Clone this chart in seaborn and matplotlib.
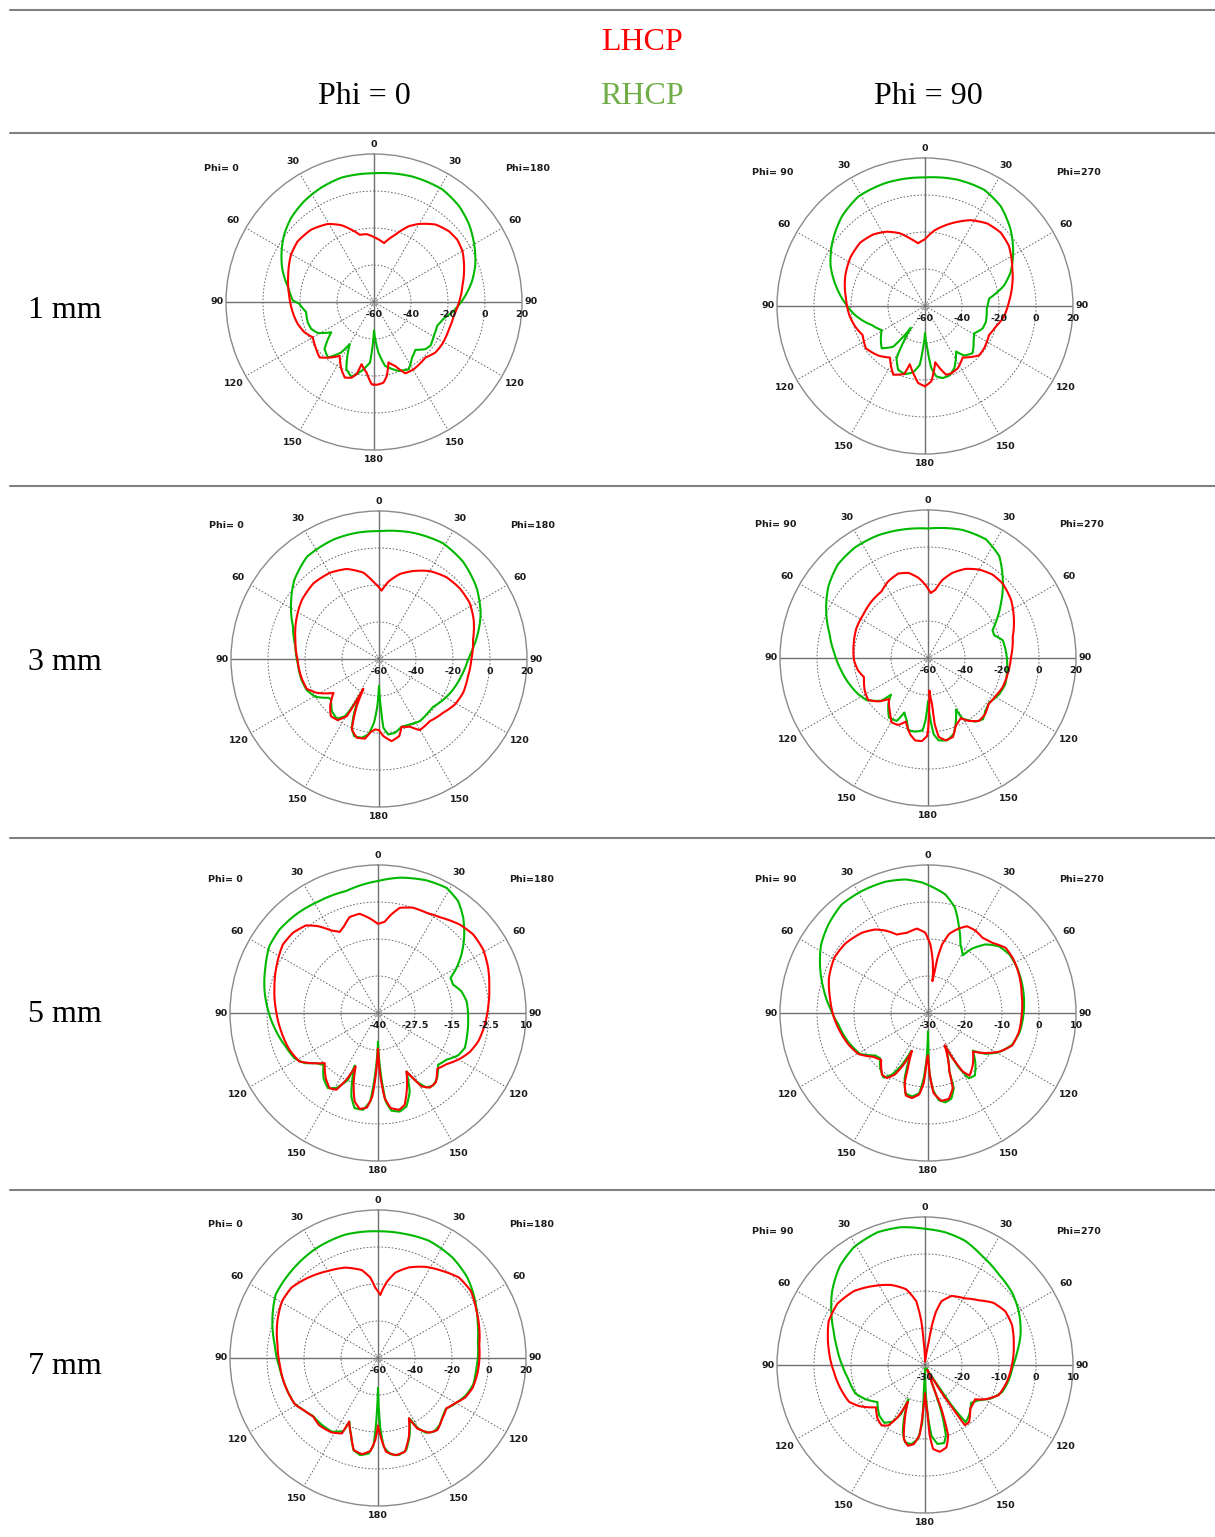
import numpy as np
import pandas as pd
import matplotlib
matplotlib.use("Agg")
import matplotlib.pyplot as plt
from matplotlib.lines import Line2D
import seaborn as sns

# Circularly polarised gain (dB) versus elevation theta (deg).
# Negative theta = first phi cut (left half), positive theta = opposite cut (right half).

# ---- 1 mm, phi = 0 / 180 ----
t1_rhcp = [-180, -176.2, -169.8, -163.2, -157.7, -150, -147, -140.3, -133.6, -125.3, -118.9, -113.2, -107, -98.4, -91.3,
           -88.8, -81, -70.2, -61.4, -53.2, -44.7, -34.6, -24.8, -14.7, 0, 16.9, 31.2, 41.6, 50.9, 60.3,
           69.9, 78.3, 84.8, 88.9, 97.3, 103, 110.4, 119.3, 127.7, 132.5, 139.1, 145.6, 152.7, 160.4, 170.1, 175, 180]
g1_rhcp = [-44.5, -27.2, -22.2, -17.8, -20.7, -33.8, -27.5, -21, -23.1, -31.7, -25.3, -23.1, -22.5, -22.9, -19.6,
           -16, -13.3, -7.3, -3.1, 0.7, 3.8, 6.3, 8.1, 9.5, 9.6, 10.9, 11.2, 9.3, 6.3, 2.4,
           -1.7, -6, -9.8, -12.2, -17.3, -21.2, -23.5, -22.9, -21.4, -22.3, -25.8, -23.6, -19.1, -20.4, -24.9, -32.6, -44.5]
t1_lhcp = [-180, -178.4, -174, -168.7, -166.4, -163.4, -158.9, -154.1, -147.5, -142.4, -135.5, -129.1, -120, -113.5, -106,
           -97.1, -85.5, -72.6, -60.5, -51.6, -41, -30.6, -23, -17.3, -11.9, -6.2, 0, 9.7, 17.5, 24.6,
           29.8, 38.5, 46.7, 53.3, 60.3, 69.5, 79.2, 90, 99.5, 109.7, 121.6, 129.3, 137.2, 149.5, 156.3,
           161.7, 166.6, 170.2, 173.3, 177.4, 180]
g1_lhcp = [-15.3, -15.5, -21.6, -25.7, -19.8, -17.3, -16.2, -19.6, -25.5, -22.2, -18, -19.7, -21.8, -19, -17.1,
           -15.7, -14, -11.4, -8.4, -7.3, -8.2, -11, -14.9, -19.1, -22.9, -23.1, -24.9, -27.7, -21.9, -15,
           -11.4, -6.5, -4.3, -3.8, -4.9, -8, -11.3, -14, -16.2, -16.9, -16.7, -17, -19.1, -17.8, -17.9,
           -23.6, -26.4, -19.4, -16.1, -15.3, -15.3]

# ---- 1 mm, phi = 90 / 270 ----
t2_rhcp = [-180, -177.3, -174.9, -169.8, -163.5, -157.2, -151.4, -146.9, -142, -134.3, -119.1, -109.8, -97.6, -88.3, -78.9,
           -66.9, -55.7, -42.7, -31.2, -18, 0, 14.5, 27, 37.2, 48.1, 58.8, 68.5, 75.5, 79.1, 83.5,
           92.4, 104.6, 111.3, 119.1, 125, 134.8, 141.6, 145.7, 154.7, 160.6, 166.1, 170.9, 174.2, 176.9, 180]
g2_rhcp = [-45.2, -37.1, -28.1, -23.6, -21.6, -22.6, -27.9, -45.9, -32.1, -27.3, -33.2, -29.5, -22, -17, -11.6,
           -4.5, 0.7, 6.1, 9.3, 9.8, 9.5, 10.5, 10.5, 7.7, 2.1, -4.3, -10.3, -15.9, -20.2, -25.2,
           -26.6, -26, -26.6, -29.6, -27.9, -23.8, -25.8, -30.2, -22.9, -20.2, -19.9, -21.5, -26.3, -37.1, -45.2]
t2_lhcp = [-180, -174.9, -171.7, -165.4, -163, -155.2, -145.8, -136.8, -125.6, -115, -106.6, -97, -84.7, -69.1, -57,
           -45.6, -35.7, -27.3, -19.1, -11.5, -6.3, 0, 7.2, 17.5, 28.1, 37.1, 45.9, 54.4, 65.2, 76.8,
           87.3, 97.9, 106.4, 114.4, 125.6, 132.4, 143.8, 152.2, 158.8, 162.9, 169.7, 175.2, 180]
g2_lhcp = [-16.6, -18.2, -21.6, -27.5, -21.5, -19.1, -26.3, -23.2, -20.7, -22.8, -20.7, -18.8, -17.1, -13.9, -11.9,
           -11, -12.3, -14.8, -18.4, -23.2, -25.9, -23.9, -18.8, -13.2, -7.4, -4.1, -3, -4.2, -8.1, -11.6,
           -14.6, -17, -20.2, -22, -20.7, -20.4, -25.5, -22, -20.9, -21.1, -29.1, -19.1, -16.6]

# ---- 3 mm, phi = 0 / 180 ----
t3_rhcp = [-180, -178, -175.5, -172, -167.6, -162.1, -158.4, -155.2, -152, -150.8, -149.3, -144.8, -137.9, -130.3, -127.6,
           -120.7, -113.4, -104.8, -94, -81.4, -69.3, -59.2, -47, -35.2, -20.8, -10, 0, 15.2, 29, 40.8,
           53.4, 65.7, 75.3, 83.3, 90.4, 101.8, 112.4, 122.7, 131.5, 137.6, 146.7, 154.7, 161.6, 167.8, 173,
           176.4, 177.7, 180]
g3_rhcp = [-45.3, -34.5, -25.4, -18.9, -16.4, -16.2, -20, -28, -38.3, -29.8, -24.1, -20.5, -22, -26.1, -25.6,
           -20, -17.5, -16.6, -16.1, -14.3, -10.3, -4.6, 2.6, 7.6, 9.1, 9.3, 9.1, 10.7, 11.5, 9.5,
           5.5, 0.3, -4.7, -8.8, -11.9, -14.6, -16.7, -18.9, -21, -20.7, -19.8, -20.9, -21.4, -19.2, -18.9,
           -22.8, -32.7, -45.3]
t3_lhcp = [-180, -176.8, -173.5, -170, -164.2, -158.9, -154.7, -152.4, -150.6, -145.8, -139.9, -134, -126.7, -118.6, -112.5,
           -102.5, -90.5, -77, -64.6, -52.5, -40.8, -29.5, -19.7, -10.2, -4.2, 2.2, 6.9, 13.8, 21.2, 30,
           39.5, 48.8, 58.4, 67.5, 78.4, 90.4, 101, 111.9, 121, 130, 140.7, 150.1, 155.5, 161.6, 165.3,
           171.3, 176.8, 180]
g3_lhcp = [-21.6, -21.9, -20.3, -16.3, -15.8, -19.2, -31.8, -41.8, -24.5, -20.1, -19.6, -23.3, -29.3, -21.8, -17.8,
           -16.8, -16, -13.6, -10.5, -7.5, -5.9, -6.4, -8.3, -12.6, -18.1, -23, -17.9, -12.7, -9, -5.1,
           -2.7, -2, -2.4, -4.6, -8.1, -10.1, -11, -11, -12.2, -14.8, -16.6, -15.7, -19.8, -21.4, -16.9,
           -15.1, -18.3, -21.6]

# ---- 3 mm, phi = 90 / 270 ----
t4_rhcp = [-180, -177.6, -175.7, -170.2, -164.9, -161.4, -156.6, -153.6, -146.8, -139.3, -134.7, -132.6, -124.3, -117.2, -108.7,
           -98.2, -87.3, -76, -64.7, -54.3, -44, -33.6, -22.1, -10.1, 0, 15, 26, 35, 42.4, 47.6,
           53.1, 61, 66.6, 71, 76.6, 85.6, 98.9, 108.5, 116.8, 125.9, 132.7, 138, 143.1, 150.5, 151.5,
           157.4, 161.1, 166.9, 172.6, 175.7, 177.6, 180]
g4_rhcp = [-36.5, -26, -20.8, -19.6, -19.5, -24.2, -27.9, -22, -21.5, -27.1, -31.8, -25.9, -19.7, -17.5, -15.3,
           -12.6, -9.4, -5.1, 0.9, 6.3, 10.2, 11.6, 11.6, 10.7, 10, 11.7, 11.4, 7.2, -0.2, -5.3,
           -10.7, -17.6, -22, -22.2, -18.5, -17.7, -16.7, -15.9, -16.8, -19.1, -17.9, -15.5, -17, -22.4, -28.4,
           -21.2, -16.8, -14.3, -15.1, -18.6, -26, -36.5]
t4_lhcp = [-180, -179.3, -175.8, -171.2, -166.9, -160.8, -156.1, -150.6, -145.1, -136.4, -131.1, -125.1, -117.3, -106.7, -100.1,
           -91.8, -79, -67.5, -56.4, -45, -34.9, -27.4, -19.3, -12.9, -6.7, -2.1, 2.4, 6.2, 10.3, 15.9,
           22.9, 30, 37.7, 45.1, 55, 64.2, 76, 89.3, 101.2, 111.4, 119, 127.3, 134.5, 140.9, 146.9,
           151.5, 157.9, 162.5, 168, 172.2, 174.2, 175, 177.6, 180]
g4_lhcp = [-20.5, -17.8, -15, -14.9, -17.6, -23.6, -20.4, -20, -24.1, -29.4, -24.3, -20.5, -21.5, -23.9, -21.6,
           -20, -19.1, -18.1, -17.9, -16.8, -16.1, -13.3, -11.6, -12.8, -16.4, -20.4, -24.9, -22.9, -17.3, -12.2,
           -7.7, -4.8, -3, -3, -5.2, -8.5, -12.8, -15.1, -16.1, -16.7, -18, -18.9, -16.7, -16.2, -19.4,
           -23, -20.4, -15.2, -14.5, -16.9, -24, -35, -42.4, -20.5]

# ---- 5 mm, phi = 0 / 180 ----
t5_rhcp = [-180, -177, -175, -171.2, -166.2, -162.3, -157.9, -156.3, -155.8, -150.9, -146.3, -140.1, -133.6, -129, -124.3,
           -118.4, -109.9, -99.3, -88.3, -77.6, -68.2, -58.4, -49.7, -39.7, -27.6, -14.6, -5.2, 0, 9.1, 20.1,
           28.7, 35.6, 41.8, 48.9, 55, 60.1, 64.2, 69.3, 75.4, 82.5, 93.2, 103.7, 111.9, 117.9, 124.3,
           130.7, 137.8, 142.7, 147, 150.7, 154.1, 158, 163.1, 167.6, 172.2, 175, 177, 180]
g5_rhcp = [-30.2, -18, -10, -6.9, -6.9, -10.4, -17.5, -20.6, -15.2, -11, -9.5, -11.3, -14.6, -13.1, -10,
           -7.9, -6.8, -4.9, -2.8, -0.7, 1, 3.1, 3.6, 3.3, 2.7, 2.6, 3.9, 4.6, 6.3, 7.7,
           8.2, 6.5, 3.2, -1.4, -5.6, -9.4, -12.8, -12.9, -10.9, -9.8, -9.5, -9, -8.4, -9.4, -12,
           -13.2, -10.3, -9.2, -10, -13.5, -18, -11.4, -7, -5.9, -6.7, -10, -18, -30.2]
t5_lhcp = [-180, -177.7, -176.1, -173.3, -169.2, -165.2, -161.2, -157.3, -154.6, -151.5, -147.2, -141.2, -133.2, -127.6, -121.7,
           -112.5, -100.7, -89.1, -76.4, -64.4, -54.3, -46.7, -39.4, -34.7, -29.5, -25.3, -21.8, -16.5, -10.5, -5,
           0, 4.2, 7.7, 11.7, 18.4, 25.8, 32.8, 42.8, 50.5, 58.9, 67.8, 75.7, 85.7, 96.2, 105.8,
           113, 119.2, 126.7, 133.3, 140.1, 145.2, 149.4, 151.7, 154.1, 158, 163.8, 167.7, 172.4, 175.5, 177.7, 180]
g5_lhcp = [-27.9, -18, -11.7, -7.8, -7, -9.1, -14.4, -20.4, -15, -10.5, -9.8, -11.8, -15.3, -12.2, -8.8,
           -7.6, -6.7, -5.6, -4, -2.1, -0.4, -0.5, -1.7, -4.3, -8, -9.7, -8.7, -6.2, -5.9, -7.9,
           -9.9, -9.1, -6.4, -3.7, -2.5, -2.4, -1.5, 0.7, 1.7, 1.5, 0.2, -1.2, -2.6, -3.7, -4.8,
           -6.3, -8.3, -11.1, -12.5, -9.5, -9.3, -11.2, -15, -18, -13.8, -7.7, -6.5, -7.6, -11.1, -18, -27.9]

# ---- 5 mm, phi = 90 / 270 ----
t6_rhcp = [-180, -178.3, -176.2, -173.8, -169.1, -164.2, -160.3, -158.2, -156.1, -153.3, -149.7, -145.4, -139.1, -133.3, -128.8,
           -121.2, -110.1, -97.4, -87.1, -76.5, -65.8, -57.4, -48.4, -38.4, -28.5, -18, -9.6, -2.6, 0, 8.3,
           14.3, 19.1, 25.3, 31, 34.4, 40, 46.7, 54.4, 63.2, 73.2, 82.1, 93, 101.8, 110.7, 118.9,
           125.3, 130.1, 137.5, 143.2, 148, 150.6, 152.5, 159.9, 161.1, 164.8, 169, 173, 176.3, 178.7, 180]
g6_rhcp = [-25, -17.8, -12.3, -8.2, -7, -7.5, -11.3, -15.4, -18.8, -14.3, -10.7, -8.8, -10.3, -12.2, -11.7,
           -8.6, -7.1, -5.6, -3.5, -0.9, 2, 4.3, 6, 7.5, 7.5, 7.3, 6.6, 5.3, 4.6, 2.4,
           -0.6, -4.7, -9.5, -11.8, -8.9, -5.8, -3.7, -2.9, -3, -3.4, -3.8, -4.3, -4.7, -5.7, -8.1,
           -10.9, -14.2, -11, -8.9, -9.2, -13.1, -19.8, -13.2, -8.5, -6, -5.4, -6.3, -9.2, -14.2, -25]
t6_lhcp = [-180, -178.7, -176.5, -173.9, -169.3, -165, -161.6, -160, -157, -155, -151.8, -147.8, -143.3, -135, -128.8,
           -120.6, -111.8, -101.8, -91.4, -81.3, -70.5, -59.5, -50.1, -39.5, -32.3, -27.4, -21.6, -14.7, -7.4, -1.9,
           2, 5.2, 7, 8, 9.1, 9.8, 11.6, 15.1, 20, 24.2, 29.9, 36.1, 42.4, 50, 57.3,
           67.1, 78.9, 92, 101.8, 111, 118.3, 124.9, 130.6, 139.5, 146.4, 149.3, 151.2, 152.7, 159.9, 161.8,
           166.4, 171.4, 176, 178, 180]
g6_lhcp = [-18.5, -17.8, -11, -7.9, -6.6, -6.9, -10, -14.1, -18.9, -15, -11.2, -9.2, -9.2, -12.1, -11.1,
           -8.2, -6.9, -5.7, -4.4, -3.2, -1.6, -0.6, -0.8, -1.9, -3.3, -4.9, -7.2, -7.6, -7, -8.3,
           -11.5, -15.9, -19, -21.3, -18.6, -14.9, -11.1, -7.8, -5.7, -4.3, -4.3, -4.9, -4.3, -2.6, -2.7,
           -3.3, -4.2, -4.7, -4.9, -5.6, -8, -11.1, -14, -11.4, -9.7, -11.6, -15.6, -20.2, -13.2, -8.6,
           -6.1, -6, -8.3, -12.4, -18.5]

# ---- 7 mm, phi = 0 / 180 ----
t7_rhcp = [-180, -178.1, -177.1, -174.4, -169.6, -165.1, -161.2, -155.9, -154.7, -147.9, -138.4, -131.9, -124.8, -118.4, -107.1,
           -95.8, -82.6, -70.7, -58.1, -44.8, -30, -14.9, 0, 11, 23.5, 36.5, 48, 59.6, 69.7, 80.5,
           95.8, 105.7, 113.1, 120.2, 127, 132.3, 137.4, 142.8, 147.5, 150.6, 152.4, 158.2, 163, 167.9, 172.7,
           176.3, 178.1, 180]
g7_rhcp = [-43.7, -22, -12.8, -8.1, -6.6, -8.5, -15, -22.3, -16.3, -13, -12.8, -13, -10.8, -8.5, -7.7,
           -6.6, -3.7, 0.5, 5.1, 6.4, 8, 9, 8.5, 8.6, 9.1, 7.6, 5, 0.9, -2.6, -5.3,
           -6.5, -6.6, -8.4, -11.4, -14.2, -12.9, -10.8, -10, -12.1, -16.8, -23.2, -14.2, -7.9, -6.3, -7.6,
           -11.9, -22, -43.7]
t7_lhcp = [-180, -178.1, -175.3, -170.5, -165.3, -161, -155.6, -154.4, -148.1, -138.7, -132.2, -125.9, -119.1, -106, -93.9,
           -82.4, -69.9, -59.3, -50.9, -40.9, -29.7, -20, -10.4, -5.5, -2.2, 2.1, 3.9, 6.8, 11.5, 18.8,
           27.6, 36.4, 45.2, 54.2, 64.5, 73.4, 82.5, 98.6, 107.7, 114.4, 120.4, 126.3, 133.2, 140.5, 145.7,
           150.9, 152.9, 158.6, 164.1, 169.8, 175.1, 177.6, 180]
g7_lhcp = [-23.4, -15.6, -9.5, -7.3, -8.5, -15.5, -22.2, -14.8, -12.6, -11.7, -12.8, -11.2, -8.6, -7.6, -6.8,
           -5.2, -2.1, 0.3, 0.3, -2.5, -5.8, -8, -11.7, -16.3, -22, -25.9, -22.8, -18.4, -12.9, -8.3,
           -4.4, -1.5, 1.7, 1.9, -1, -2.9, -4.8, -5.6, -6.4, -8.3, -11.7, -14.1, -12.3, -9.5, -11.1,
           -16.4, -23.4, -14.3, -7.2, -6.6, -9.1, -16.1, -23.4]

# ---- 7 mm, phi = 90 / 270 ----
t8_rhcp = [-180, -177.7, -177.3, -174.5, -170.1, -165.6, -161.7, -157.9, -154.3, -153.9, -150.3, -144.9, -137.8, -127.9, -120.1,
           -112.4, -99.9, -90, -79.2, -69.7, -60.1, -51.4, -40.6, -31.1, -19.6, -9.8, 0, 8.5, 17.8, 27.5,
           39, 50.3, 60.2, 72.4, 81.7, 91.1, 100.2, 109.3, 116.2, 123.4, 129.3, 138.9, 144.6, 146.6, 147.5,
           150, 155, 159, 160.7, 163.5, 166.2, 171, 174.8, 177.1, 180]
g8_rhcp = [-29, -25.5, -14.5, -9.9, -8.3, -8.4, -10.9, -15.3, -19.7, -15.3, -12.4, -10.9, -11.6, -13.7, -11.5,
           -9.7, -8.9, -7.6, -5.8, -3.7, -0.8, 2.1, 5.3, 7.2, 8.1, 7.8, 6.8, 6.3, 5.3, 3.3,
           1.6, 0.6, -0.8, -2.9, -4.8, -6.3, -7, -7.9, -9.8, -12.7, -13.9, -11.9, -11, -16.9, -22,
           -27, -29, -25, -16.5, -10.1, -8.3, -8.4, -10.8, -17.3, -29]
t8_lhcp = [-180, -177.5, -175.6, -172, -168, -164, -160.3, -155.1, -152.4, -148.8, -144.4, -138.6, -130.8, -121.9, -115.9,
           -105.6, -94.2, -82, -72.7, -65.6, -55.1, -43.8, -32.7, -23, -14, -7.8, -4.8, -3.3, 0, 6,
           9, 10, 11.5, 14.5, 21.1, 31, 39.6, 47.8, 56.2, 65.1, 77.2, 90, 101.6, 112.3, 119.7,
           124.4, 134.1, 142.4, 146.5, 147.5, 150, 155, 159.2, 159.5, 161.8, 165.4, 170.3, 174.5, 176.2, 177.1, 180]
g8_lhcp = [-22.3, -17.3, -11, -8.4, -7.7, -9.2, -13.6, -19, -14.1, -10.9, -9.9, -10.6, -12.5, -9, -7.2,
           -6.3, -5.3, -3.8, -2.5, -1.4, -1.1, -2.3, -4.6, -6.5, -8.9, -12.6, -18.1, -23.6, -29.1, -28,
           -24, -19, -15.5, -12.2, -10, -9, -7.3, -5, -3.9, -4.1, -5.4, -6.5, -7.4, -8.5, -11.3,
           -13.6, -13, -10.5, -10.5, -17, -25, -28.5, -25.1, -17.4, -9.9, -7, -6.2, -7.2, -10.9, -17.3, -22.3]

# radial scales (centre value ... outer value) and their labels
rings_a = [-60, -40, -20, 0, 20]
rings_b = [-40, -27.5, -15, -2.5, 10]
rings_c = [-30, -20, -10, 0, 10]

row_labels = ["1 mm", "3 mm", "5 mm", "7 mm"]
col_labels = ["Phi = 0", "Phi = 90"]
cut_labels = [("Phi= 0", "Phi=180"), ("Phi= 90", "Phi=270")]

sns.set_theme(style="white")
plt.rcParams["font.family"] = ["DejaVu Sans"]

W, H = 1215, 1537
fig = plt.figure(figsize=(W / 100, H / 100), dpi=100)
fig.patch.set_facecolor("white")

RED = "#ff0000"
GREEN = "#00b800"
GRIDC = "#606060"
AXISC = "#707070"
RIMC = "#8a8a8a"
SERIF = ["Liberation Serif", "DejaVu Serif"]

panels = [
    dict(center=(374, 302), col=0, rings=rings_a, rhcp=(t1_rhcp, g1_rhcp), lhcp=(t1_lhcp, g1_lhcp)),
    dict(center=(925, 306), col=1, rings=rings_a, rhcp=(t2_rhcp, g2_rhcp), lhcp=(t2_lhcp, g2_lhcp)),
    dict(center=(379, 659), col=0, rings=rings_a, rhcp=(t3_rhcp, g3_rhcp), lhcp=(t3_lhcp, g3_lhcp)),
    dict(center=(928, 658), col=1, rings=rings_a, rhcp=(t4_rhcp, g4_rhcp), lhcp=(t4_lhcp, g4_lhcp)),
    dict(center=(378, 1013), col=0, rings=rings_b, rhcp=(t5_rhcp, g5_rhcp), lhcp=(t5_lhcp, g5_lhcp)),
    dict(center=(928, 1013), col=1, rings=rings_c, rhcp=(t6_rhcp, g6_rhcp), lhcp=(t6_lhcp, g6_lhcp)),
    dict(center=(378, 1358), col=0, rings=rings_a, rhcp=(t7_rhcp, g7_rhcp), lhcp=(t7_lhcp, g7_lhcp)),
    dict(center=(925, 1365), col=1, rings=rings_c, rhcp=(t8_rhcp, g8_rhcp), lhcp=(t8_lhcp, g8_lhcp)),
]

R = 148  # polar radius in pixels
tick_deg = [0, 30, 60, 90, 120, 150, 180, -150, -120, -90, -60, -30]
full = np.linspace(0, 2 * np.pi, 721)
lab_kw = dict(fontsize=6.8, fontweight="bold", color="#1a1a1a", ha="center", va="center")

for p in panels:
    cx, cy = p["center"]
    ax = fig.add_axes([(cx - R) / W, 1 - (cy + R) / H, 2 * R / W, 2 * R / H], projection="polar")
    ax.set_theta_zero_location("N")
    ax.set_theta_direction(-1)
    ax.set_facecolor("white")
    rings = p["rings"]
    rmin, rmax = rings[0], rings[-1]
    span = rmax - rmin
    ax.grid(False)
    ax.set_xticks([])
    ax.set_yticks([])
    ax.spines["polar"].set_edgecolor(RIMC)
    ax.spines["polar"].set_linewidth(1.0)

    # dotted range rings and spokes, solid cross-hair
    for rv in rings[1:-1]:
        ax.plot(full, np.full_like(full, rv), color=GRIDC, lw=0.65, ls=(0, (1.8, 2.0)), zorder=1)
    for a in (30, 60, 120, 150, 210, 240, 300, 330):
        ax.plot([np.deg2rad(a)] * 2, [rmin, rmax], color=GRIDC, lw=0.65, ls=(0, (1.8, 2.0)), zorder=1)
    for a in (0, 90, 180, 270):
        ax.plot([np.deg2rad(a)] * 2, [rmin, rmax], color=AXISC, lw=1.0, zorder=1)
    ax.plot([0], [rmin], marker="o", ms=4, mfc="none", mec="#9a9a9a", mew=0.8, zorder=2)

    # RHCP underneath, LHCP on top
    n_before = len(ax.lines)
    for key, color in (("rhcp", GREEN), ("lhcp", RED)):
        t, g = p[key]
        df = pd.DataFrame({"theta": np.deg2rad(t), "gain": g})
        sns.lineplot(data=df, x="theta", y="gain", sort=False, estimator=None,
                     color=color, lw=1.5, ax=ax, zorder=3)
    # draw each segment as a polar arc/spiral rather than a straight chord
    for ln in ax.lines[n_before:]:
        ln.get_path()._interpolation_steps = 24
    ax.set_rlim(rmin, rmax)
    ax.set_xlabel("")
    ax.set_ylabel("")

    # angle labels
    for a in tick_deg:
        frac = 0.063 if a % 90 == 0 else 0.097
        ax.text(np.deg2rad(a), rmax + frac * span, str(abs(a)), clip_on=False, **lab_kw)
    # level labels along the 90 deg axis
    for rv in rings:
        txt = ("%g" % rv)
        ax.annotate(txt, xy=(np.pi / 2, rv), xytext=(0, -8.8), textcoords="offset points",
                    annotation_clip=False, **lab_kw)
    left, right = cut_labels[p["col"]]
    ax.text(-0.015, 0.95, left, transform=ax.transAxes, **lab_kw)
    ax.text(1.02, 0.95, right, transform=ax.transAxes, **lab_kw)

# table rules
for y in (10, 133, 486, 838, 1190):
    fig.add_artist(Line2D([10 / W, 1.0], [1 - y / H, 1 - y / H], transform=fig.transFigure,
                          color="#808080", lw=1.5))

# header
fig.text(642 / W, 1 - 42 / H, "LHCP", color="#ff0000", fontsize=23, family=SERIF, ha="center", va="center")
fig.text(642 / W, 1 - 97 / H, "RHCP", color="#70ad47", fontsize=23, family=SERIF, ha="center", va="center")
fig.text(364 / W, 1 - 97 / H, col_labels[0], color="black", fontsize=23, family=SERIF, ha="center", va="center")
fig.text(928 / W, 1 - 97 / H, col_labels[1], color="black", fontsize=23, family=SERIF, ha="center", va="center")

for lbl, y in zip(row_labels, (310, 663, 1015, 1367)):
    fig.text(28 / W, 1 - y / H, lbl, color="black", fontsize=23, family=SERIF, ha="left", va="center")

fig.savefig("out.png", dpi=100, facecolor="white")
